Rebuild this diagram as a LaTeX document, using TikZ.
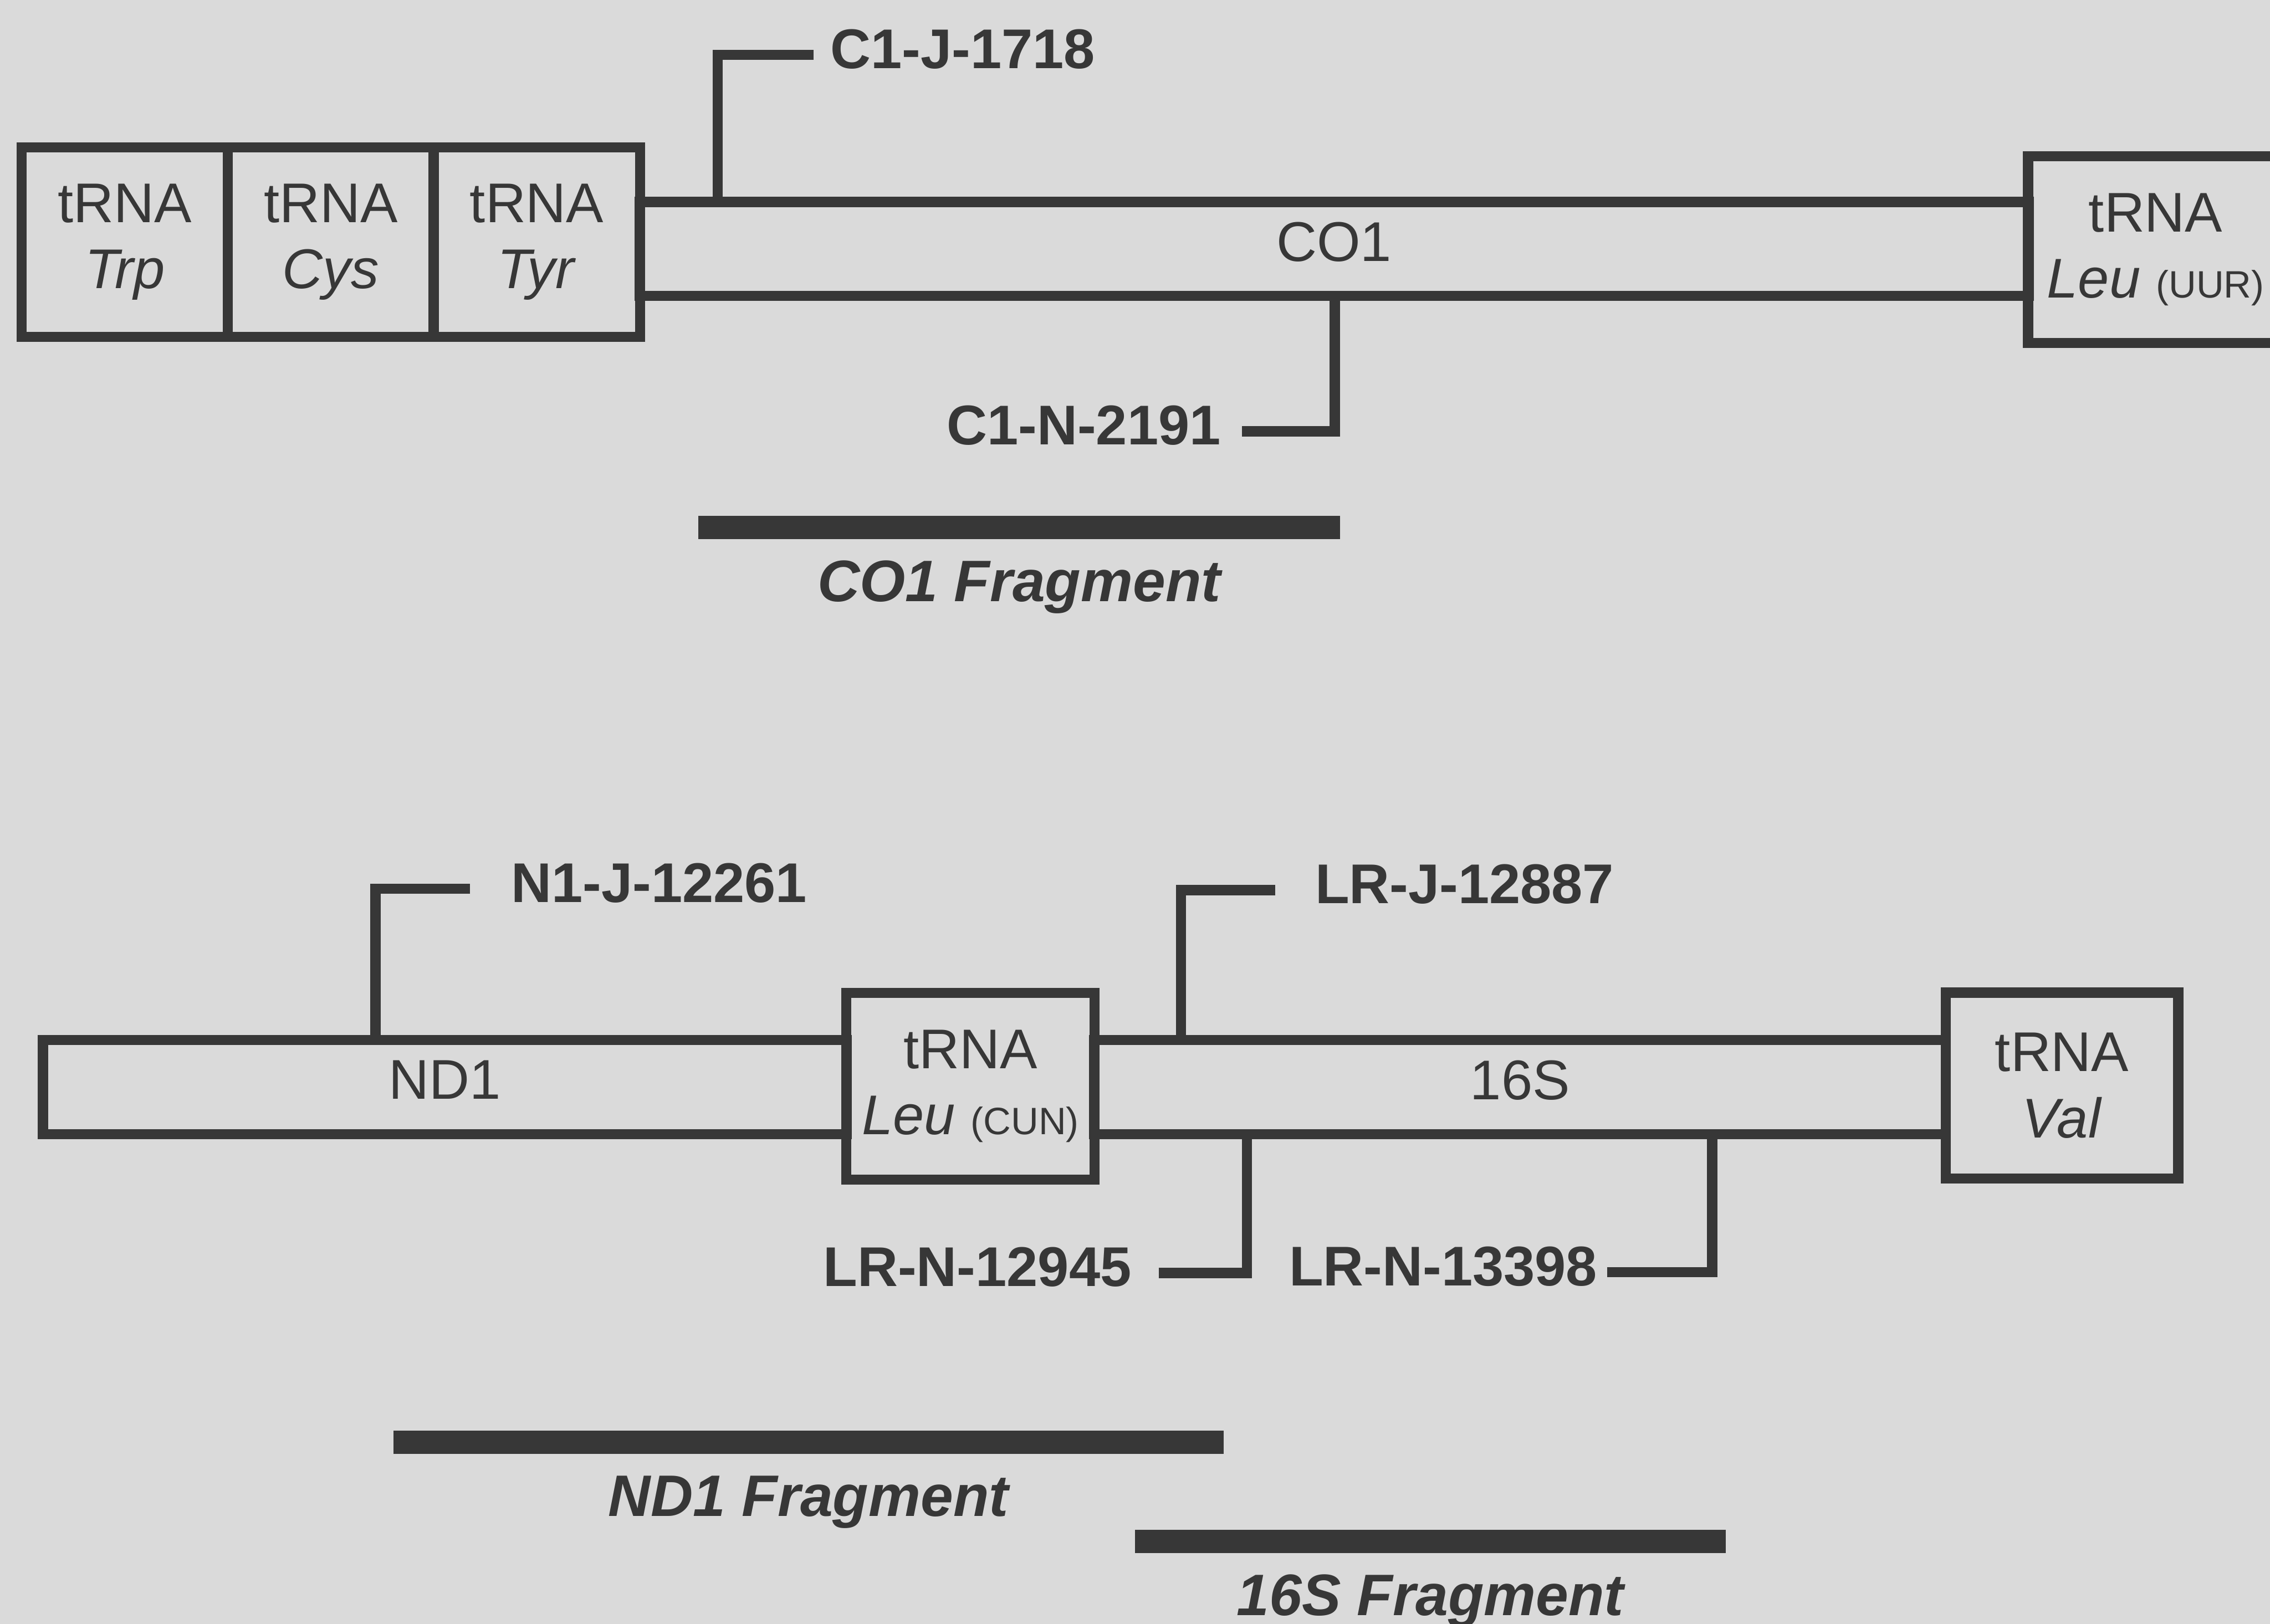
\documentclass[tikz,border=0pt]{standalone}
\usepackage{fontspec}
\setmainfont{Liberation Sans}
\usetikzlibrary{positioning}
\definecolor{paper}{HTML}{DADADA}
\definecolor{ink}{HTML}{373737}

\begin{document}
\begin{tikzpicture}[x=0.01cm, y=-0.01cm, color=ink, font=\fontsize{11}{13}\selectfont,
  trna/.style={draw=ink, line width=2pt, inner sep=0pt, outer sep=0pt, minimum height=1.31cm, align=center},
  gene/.style={draw=ink, line width=2pt, inner sep=0pt, outer sep=0pt, minimum height=0.65cm, text depth=2.8pt},
  primer/.style={font=\fontsize{11}{13}\selectfont\bfseries},
  bracket/.style={draw=ink, line width=2pt},
  fragbar/.style={fill=ink, inner sep=0pt, outer sep=0pt, minimum height=0.16cm},
  fraglbl/.style={font=\fontsize{11.5}{14}\selectfont\bfseries\itshape}]
  \path[use as bounding box, fill=paper] (0,0) rectangle (1568,1122);

  % CO1 region
  \node[trna, minimum width=1.424cm] (trp) at (86.2,167.3) {tRNA\\\textit{Trp}};
  \node[trna, minimum width=1.422cm] (cys) at (228.5,167.3) {tRNA\\\textit{Cys}};
  \node[trna, minimum width=1.424cm] (tyr) at (370.8,167.3) {tRNA\\\textit{Tyr}};
  \node[gene, minimum width=9.59cm] (co1) at (921.5,172) {CO1};
  \node[trna, minimum width=1.76cm, minimum height=1.29cm] (leuU) at (1489,172.5) {tRNA\\\textit{Leu} {\fontsize{7.5}{9}\selectfont(UUR)}};

  \node[primer, anchor=mid west, inner xsep=3.1pt] (c1j) at (562,38) {C1-J-1718};
  \node[primer, anchor=mid east, inner xsep=4pt] (c1n) at (858,298) {C1-N-2191};
  \draw[bracket] (c1j.mid west) -| ([xshift=0.54cm]co1.north west);
  \draw[bracket] (c1n.mid east) -| ([xshift=4.8cm]co1.south west);

  \node[fragbar, minimum width=4.428cm] (cofrag) at (704,364.4) {};
  \node[fraglbl, below=0.337cm of cofrag, anchor=mid] (cofraglbl) {CO1 Fragment};

  % ND1 / 16S region
  \node[gene, minimum width=5.548cm] (nd1) at (307.2,751) {ND1};
  \node[trna, minimum width=1.714cm, minimum height=1.29cm] (leuC) at (670.3,750.5) {tRNA\\\textit{Leu} {\fontsize{7.5}{9}\selectfont(CUN)}};
  \node[gene, minimum width=5.88cm] (s16) at (1050,751) {16S};
  \node[trna, minimum width=1.606cm, minimum height=1.282cm] (val) at (1424.3,750) {tRNA\\\textit{Val}};

  \node[primer, anchor=mid west, inner xsep=7.9pt] (n1j) at (324.7,614) {N1-J-12261};
  \node[primer, anchor=mid west, inner xsep=7.6pt] (lrj) at (881,615) {LR-J-12887};
  \node[primer, anchor=mid east, inner xsep=5.2pt] (lrn1) at (800.5,879.5) {LR-N-12945};
  \node[primer, anchor=mid east, inner xsep=1.7pt] (lrn2) at (1110,879) {LR-N-13398};
  \draw[bracket] (n1j.mid west) -| ([xshift=2.296cm]nd1.north west);
  \draw[bracket] (lrj.mid west) -| ([xshift=0.6cm]s16.north west);
  \draw[bracket] (lrn1.mid east) -| ([xshift=1.054cm]s16.south west);
  \draw[bracket] (lrn2.mid east) -| ([xshift=4.266cm]s16.south west);

  \node[fragbar, minimum width=5.73cm] (ndfrag) at (558.5,996.4) {};
  \node[fraglbl, below=0.337cm of ndfrag, anchor=mid] (ndfraglbl) {ND1 Fragment};
  \node[fragbar, minimum width=4.08cm] (sfrag) at (988,1065) {};
  \node[fraglbl, below=0.337cm of sfrag, anchor=mid] (sfraglbl) {16S Fragment};
\end{tikzpicture}
\end{document}
